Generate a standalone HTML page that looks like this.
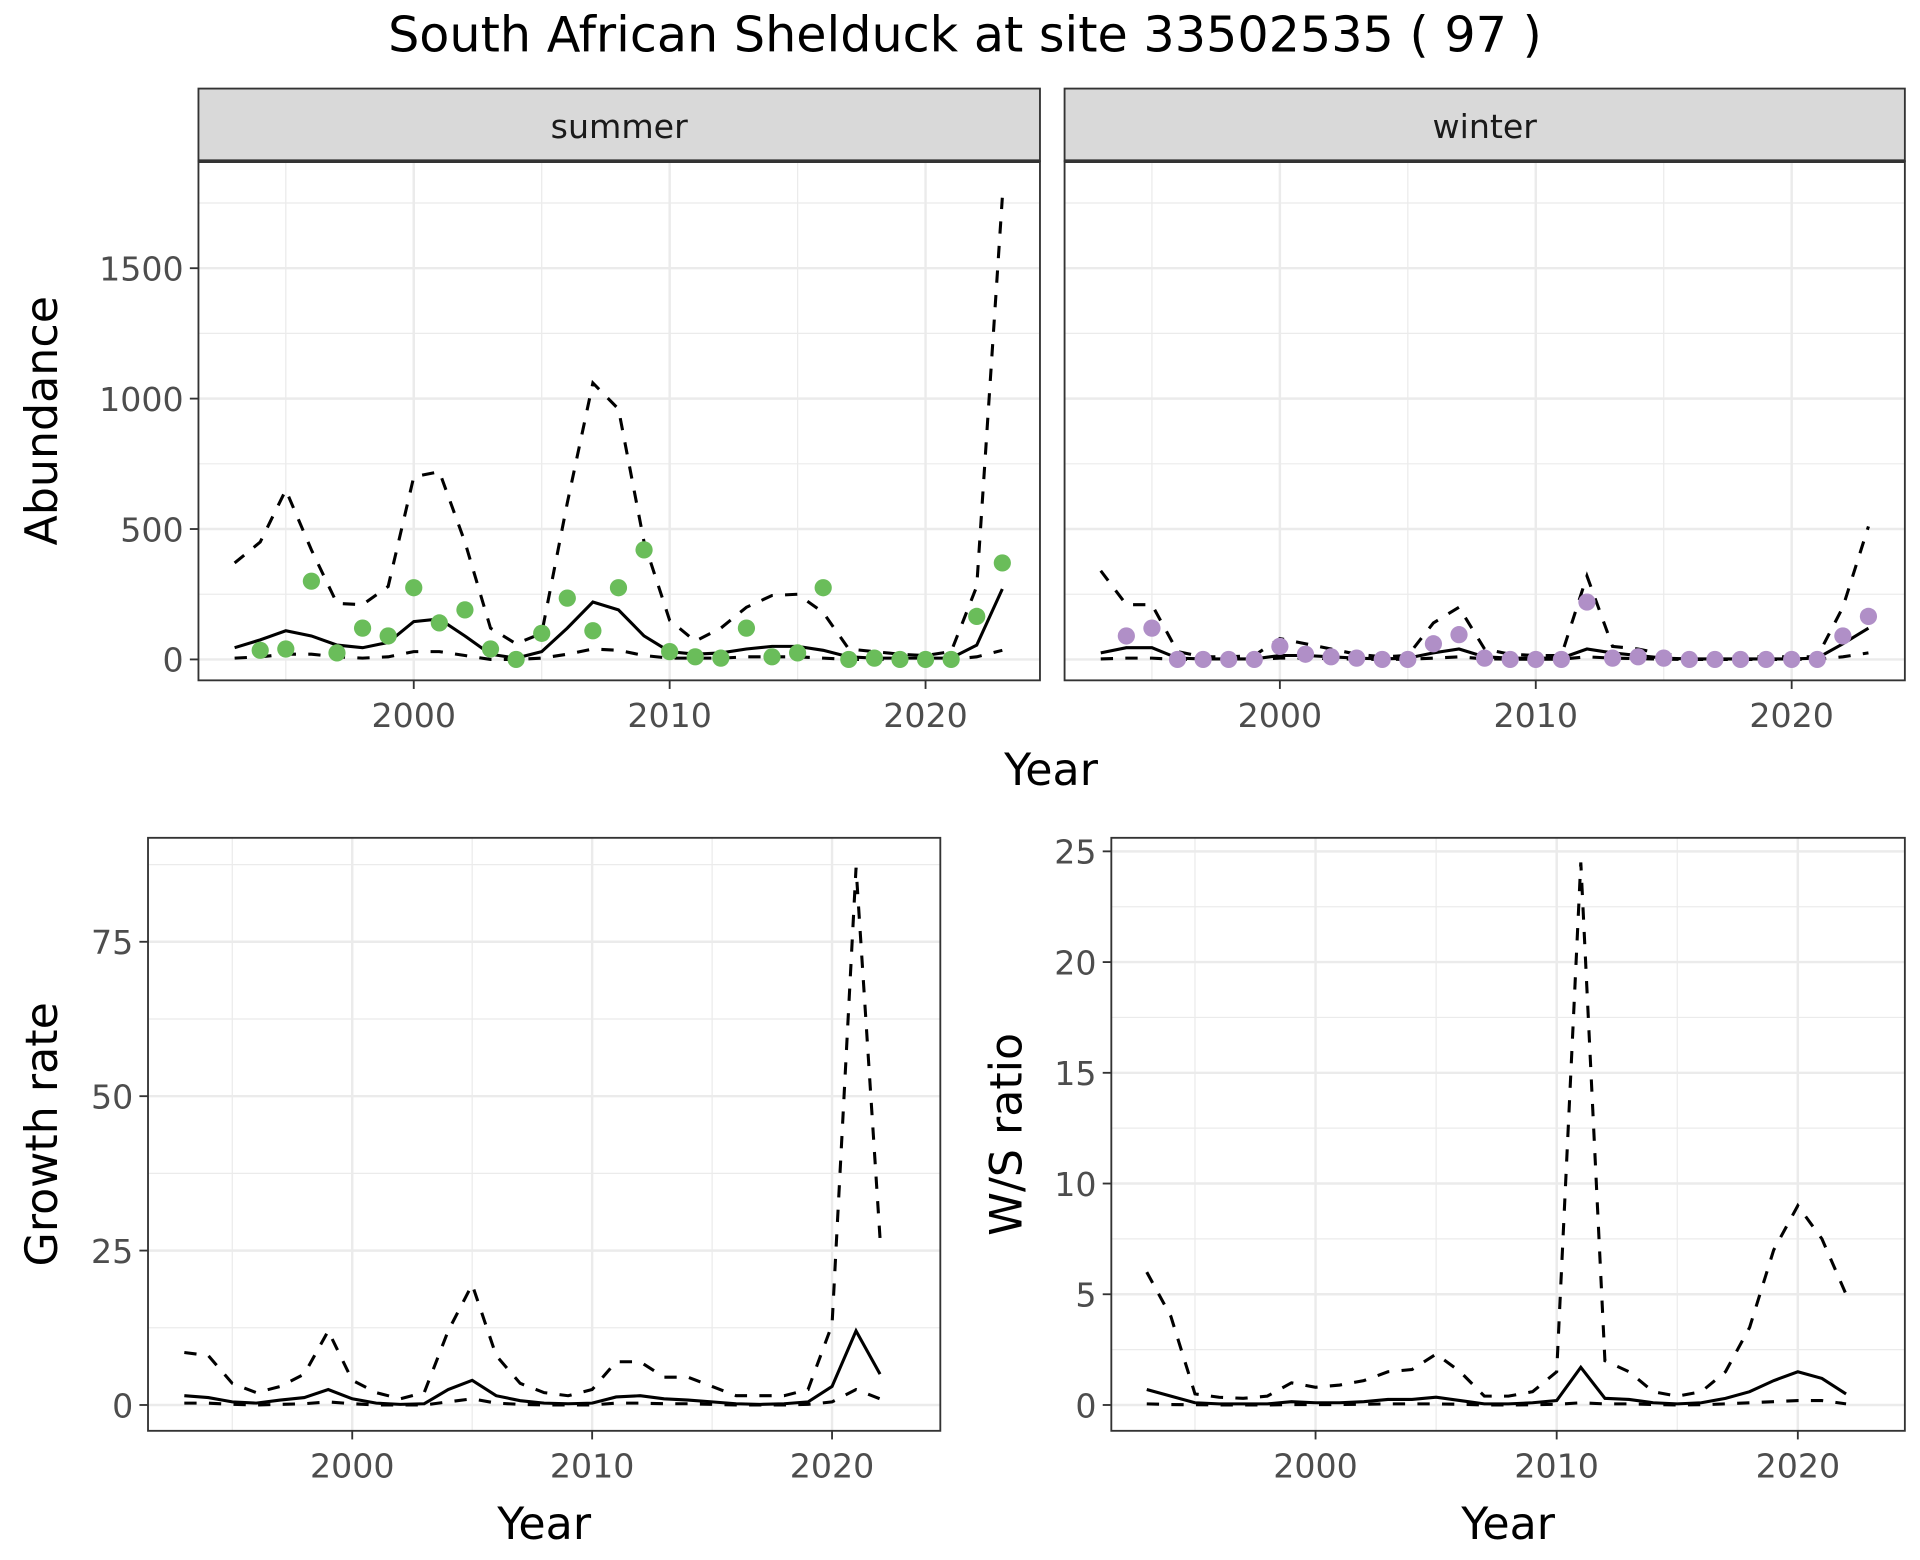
<!DOCTYPE html>
<html><head><meta charset="utf-8"><style>
html,body{margin:0;padding:0;background:#fff;}
svg{display:block;font-family:"DejaVu Sans","Liberation Sans",sans-serif;}
</style></head><body>
<svg id="chart" width="1920" height="1560" viewBox="0 0 1560 1268" xmlns="http://www.w3.org/2000/svg">
<text x="784" y="42" font-size="40" text-anchor="middle" fill="#000">South African Shelduck at site 33502535 ( 97 )</text>
</svg>
<script>
const yearsAll = [1993,1994,1995,1996,1997,1998,1999,2000,2001,2002,2003,2004,2005,2006,2007,2008,2009,2010,2011,2012,2013,2014,2015,2016,2017,2018,2019,2020,2021,2022,2023];
const summerPoints = [null,35,40,300,25,120,90,275,140,190,40,0,100,235,110,275,420,30,10,5,120,10,25,275,0,5,0,0,0,165,370];
const summerMean = [45,75,110,90,55,45,65,145,155,90,20,5,30,120,220,190,90,30,20,25,40,50,50,35,10,5,5,5,5,55,270];
const summerUpper = [370,450,650,420,215,210,280,700,720,450,120,60,100,600,1060,960,450,150,70,120,200,245,250,180,40,30,20,15,30,280,1770];
const summerLower = [5,10,20,20,10,5,10,30,30,15,0,0,5,20,40,35,15,5,5,5,10,10,10,5,0,0,0,0,0,10,35];
const winterPoints = [null,90,120,0,0,0,0,50,20,10,5,0,0,60,95,5,0,0,0,220,5,10,5,0,0,0,0,0,0,90,165];
const winterMean = [25,45,45,5,2,2,2,15,15,10,5,2,5,25,40,10,5,5,5,40,25,15,5,2,2,2,2,2,5,60,120];
const winterUpper = [340,210,210,30,10,10,15,80,60,40,20,10,15,140,200,40,20,15,15,320,50,40,20,10,10,10,10,10,10,200,510];
const winterLower = [2,5,5,0,0,0,0,5,5,3,1,0,1,5,10,2,1,1,1,10,5,3,1,0,0,0,0,0,1,10,25];
const years2 = yearsAll.slice(0,30);
const growthMean = [1.5,1.2,0.5,0.3,0.8,1.2,2.5,1,0.3,0.1,0.2,2.5,4,1.5,0.7,0.3,0.2,0.3,1.3,1.5,1,0.8,0.5,0.2,0.1,0.2,0.5,3,12,5];
const growthUpper = [8.5,8,3.5,2,3,5,12,4,2,1,2,12,19.5,8,3.5,2,1.5,2.5,7,7,4.5,4.5,3,1.5,1.5,1.5,2.5,13,87,27];
const growthLower = [0.3,0.3,0.1,0,0.1,0.2,0.5,0.2,0,0,0,0.5,1,0.3,0.1,0,0,0,0.3,0.3,0.2,0.2,0.1,0,0,0,0.1,0.5,2.5,1];
const ratioMean = [0.7,0.4,0.1,0.05,0.05,0.05,0.15,0.1,0.1,0.15,0.25,0.25,0.35,0.2,0.05,0.05,0.1,0.2,1.7,0.3,0.25,0.1,0.05,0.1,0.3,0.6,1.1,1.5,1.2,0.5];
const ratioUpper = [6,4,0.5,0.35,0.3,0.4,1,0.8,0.9,1.1,1.5,1.6,2.3,1.5,0.4,0.4,0.6,1.5,24.5,2,1.5,0.6,0.4,0.6,1.5,3.5,7,9,7.5,5];
const ratioLower = [0.05,0.02,0.01,0,0,0,0.02,0.02,0.02,0.03,0.05,0.05,0.05,0.03,0,0,0.01,0.03,0.1,0.05,0.05,0.02,0,0.01,0.05,0.1,0.15,0.2,0.2,0.05];
const abundTicks = [0,500,1000,1500];
const growthTicks = [0,25,50,75];
const ratioTicks = [0,5,10,15,20,25];
const xTicks = [2000,2010,2020];

const svg = document.getElementById('chart');
const NS = 'http://www.w3.org/2000/svg';
function mk(tag, attrs, parent){const e=document.createElementNS(NS,tag);for(const k in attrs)e.setAttribute(k,attrs[k]);(parent||svg).appendChild(e);return e;}

function panel(name, p){
  const g = mk('g',{});
  
  
  const xs = v => p.x0 + (v - p.xr[0])/(p.xr[1]-p.xr[0])*(p.x1-p.x0);
  const ys = v => p.yb - (v - p.yr[0])/(p.yr[1]-p.yr[0])*(p.yb-p.yt);
  for(let i=0;i<p.xTicks.length+1;i++){
    const v = (i===0? p.xTicks[0]-5 : p.xTicks[i-1]+5);
    const X = xs(v); if(X>p.L && X<p.R) mk('line',{x1:X,x2:X,y1:p.T,y2:p.B,stroke:'#ebebeb','stroke-width':1},g);
  }
  const step = p.yTicks[1]-p.yTicks[0];
  for(let v=p.yTicks[0]-step/2; v<=p.yTicks[p.yTicks.length-1]+step; v+=step){
    const Y=ys(v); if(Y>p.T && Y<p.B) mk('line',{x1:p.L,x2:p.R,y1:Y,y2:Y,stroke:'#ebebeb','stroke-width':1},g);
  }
  p.xTicks.forEach(v=>{const X=xs(v);mk('line',{x1:X,x2:X,y1:p.T,y2:p.B,stroke:'#ebebeb','stroke-width':2},g);});
  p.yTicks.forEach(v=>{const Y=ys(v);mk('line',{x1:p.L,x2:p.R,y1:Y,y2:Y,stroke:'#ebebeb','stroke-width':2},g);});
  const path = arr => { let d=''; arr.forEach((v,i)=>{ if(v==null) return; d += (d?'L':'M')+xs(p.years[i]).toFixed(2)+','+ys(v).toFixed(2); }); return d; };
  const up = mk('path',{d:path(p.upper),fill:'none',stroke:'#000','stroke-width':2.5,'stroke-dasharray':'10,10'},g);
  
  
  const lo = mk('path',{d:path(p.lower),fill:'none',stroke:'#000','stroke-width':2.5,'stroke-dasharray':'10,10'},g);
  
  
  const mn = mk('path',{d:path(p.mean),fill:'none',stroke:'#000','stroke-width':2.5},g);
  
  
  if(p.points){
    p.points.forEach((v,i)=>{ if(v==null) return;
      const c = mk('circle',{cx:xs(p.years[i]),cy:ys(v),r:7,fill:p.color},g);
      
      
    });
  }
  if(p.strip){
    mk('rect',{x:p.L,y:p.T,width:p.R-p.L,height:p.B-p.T,fill:'none',stroke:'#333','stroke-width':1.5},g);
    mk('rect',{x:p.L,y:p.strip.y,width:p.R-p.L,height:p.T-p.strip.y,fill:'#d9d9d9',stroke:'#333','stroke-width':1.5},g);
    mk('line',{x1:p.L,x2:p.R,y1:p.T,y2:p.T,stroke:'#333','stroke-width':3},g);
    const st = mk('text',{x:(p.L+p.R)/2,y:p.strip.y+40,'font-size':27,'text-anchor':'middle',fill:'#1a1a1a'},g);
    st.textContent=p.strip.label;
    
    
  } else {
    mk('rect',{x:p.L,y:p.T,width:p.R-p.L,height:p.B-p.T,fill:'none',stroke:'#333','stroke-width':1.5},g);
  }
  p.xTicks.forEach(v=>{const X=xs(v);
    mk('line',{x1:X,x2:X,y1:p.B,y2:p.B+7,stroke:'#333','stroke-width':1.5},g);
    const t=mk('text',{x:X,y:p.B+38,'font-size':27,'text-anchor':'middle',fill:'#4d4d4d'},g);t.textContent=v;
    
    
  });
  if(p.showY){
    p.yTicks.forEach(v=>{const Y=ys(v);
      mk('line',{x1:p.L-7,x2:p.L,y1:Y,y2:Y,stroke:'#333','stroke-width':1.5},g);
      const t=mk('text',{x:p.L-12,y:Y+10,'font-size':27,'text-anchor':'end',fill:'#4d4d4d'},g);t.textContent=v;
      
      
    });
  }
  if(p.xTitle){
    const t=mk('text',{x:(p.L+p.R)/2,y:p.B+88,'font-size':36,'text-anchor':'middle',fill:'#000'},g);t.textContent=p.xTitle;
    
    
  }
  if(p.yTitle){
    const cy=(p.T+p.B)/2;
    const t=mk('text',{x:p.yTitleX,y:cy,'font-size':36,'text-anchor':'middle',fill:'#000',transform:'rotate(-90 '+p.yTitleX+' '+cy+')'},g);t.textContent=p.yTitle;
    
    
  }
}

panel('summer',{L:161,R:845,T:131,B:553,x0:336,x1:544,xr:[2000,2010],yb:536,yt:430,yr:[0,500],
  years:yearsAll,points:summerPoints,mean:summerMean,upper:summerUpper,lower:summerLower,color:'#6abd5a',
  xTicks:xTicks,yTicks:abundTicks,showY:true,strip:{y:72,label:'summer'},yTitle:'Abundance',yTitleX:46});
panel('winter',{L:865,R:1548,T:131,B:553,x0:1040,x1:1248,xr:[2000,2010],yb:536,yt:430,yr:[0,500],
  years:yearsAll,points:winterPoints,mean:winterMean,upper:winterUpper,lower:winterLower,color:'#b08fc7',
  xTicks:xTicks,yTicks:abundTicks,showY:false,strip:{y:72,label:'winter'}});
const yt = mk('text',{x:854,y:638,'font-size':36,'text-anchor':'middle',fill:'#000'});
yt.textContent='Year';



panel('growth',{L:120,R:764,T:681,B:1163,x0:286,x1:481,xr:[2000,2010],yb:1142,yt:891,yr:[0,50],
  years:years2,mean:growthMean,upper:growthUpper,lower:growthLower,
  xTicks:xTicks,yTicks:growthTicks,showY:true,xTitle:'Year',yTitle:'Growth rate',yTitleX:46});
panel('ratio',{L:903,R:1548,T:681,B:1163,x0:1069,x1:1265,xr:[2000,2010],yb:1142,yt:962,yr:[0,10],
  years:years2,mean:ratioMean,upper:ratioUpper,lower:ratioLower,
  xTicks:xTicks,yTicks:ratioTicks,showY:true,xTitle:'Year',yTitle:'W/S ratio',yTitleX:830});
</script>
</body></html>
